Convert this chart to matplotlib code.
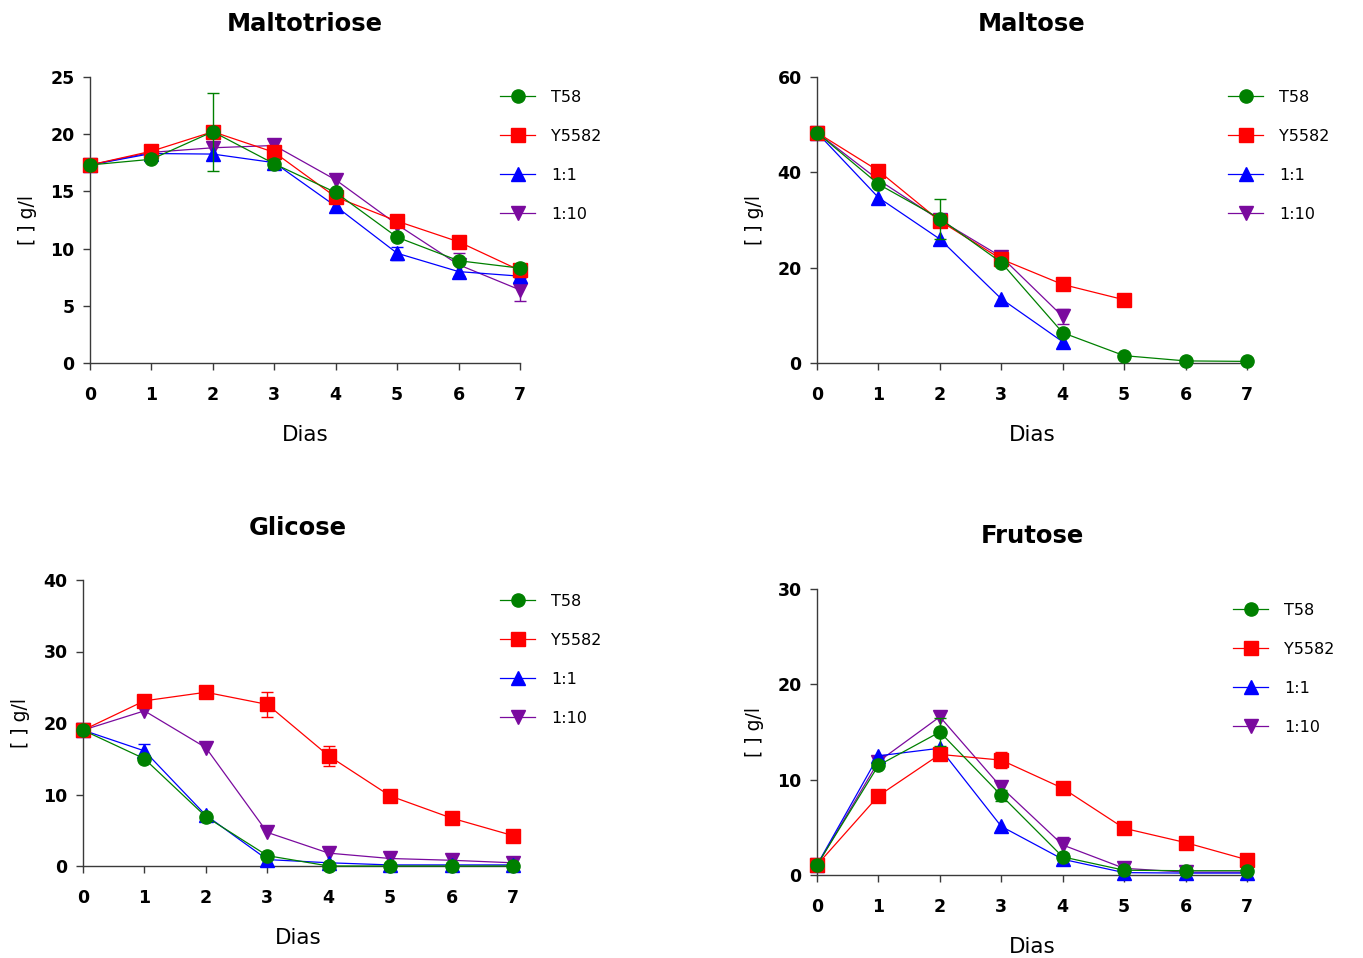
import numpy as np
import matplotlib
matplotlib.use("Agg")
import matplotlib.pyplot as plt

plt.rcParams['font.family'] = ['DejaVu Sans']

W, H = 1363, 958

days = [0, 1, 2, 3, 4, 5, 6, 7]
series_names = ["T58", "Y5582", "1:1", "1:10"]
series_colors = ["#008000", "#FF0000", "#0000FF", "#7A0A9E"]
series_markers = ["o", "s", "^", "v"]

# Maltotriose
maltotriose_t58 = [17.3, 17.8, 20.2, 17.4, 14.9, 11.0, 8.95, 8.3]
maltotriose_y5582 = [17.3, 18.5, 20.2, 18.4, 14.5, 12.4, 10.6, 8.1]
maltotriose_11 = [17.3, 18.3, 18.25, 17.5, 13.7, 9.6, 8.0, 7.6]
maltotriose_110 = [17.3, 18.4, 18.8, 19.0, 16.0, 12.1, 8.6, 6.4]
maltotriose_err_t58 = [0, 0, 3.4, 0.4, 0, 0, 0, 0]
maltotriose_err_y5582 = [0, 0, 0, 0, 0, 0.5, 0, 0]
maltotriose_err_11 = [0, 0, 0, 0, 0, 0.55, 0, 0]
maltotriose_err_110 = [0, 0, 0, 0, 0, 0, 1.0, 1.0]

# Maltose
maltose_t58 = [48.3, 37.5, 30.3, 21.1, 6.4, 1.6, 0.5, 0.4]
maltose_y5582 = [48.3, 40.3, 29.8, 21.8, 16.5, 13.3, np.nan, np.nan]
maltose_11 = [48.3, 34.7, 26.0, 13.5, 4.5, np.nan, np.nan, np.nan]
maltose_110 = [48.3, 38.4, 30.0, 22.3, 9.8, np.nan, np.nan, np.nan]
maltose_err_t58 = [0, 0, 4.2, 0, 0, 0, 0, 0]
maltose_err_y5582 = [0, 0, 0, 0, 0, 0, 0, 0]
maltose_err_11 = [0, 0, 0, 0, 0, 0, 0, 0]
maltose_err_110 = [0, 0, 0, 0, 1.6, 0, 0, 0]

# Glicose
glicose_t58 = [19.0, 15.0, 6.9, 1.45, 0.0, 0.0, 0.0, 0.0]
glicose_y5582 = [19.0, 23.1, 24.3, 22.6, 15.4, 9.8, 6.7, 4.25]
glicose_11 = [19.0, 16.1, 7.1, 0.9, 0.45, 0.15, 0.15, 0.15]
glicose_110 = [19.0, 21.7, 16.55, 4.7, 1.8, 1.05, 0.8, 0.45]
glicose_err_t58 = [0, 0, 0, 0, 0, 0, 0, 0]
glicose_err_y5582 = [0, 0, 0, 1.8, 1.35, 0, 0, 0]
glicose_err_11 = [0, 1.0, 0, 0, 0, 0, 0, 0]
glicose_err_110 = [0, 0, 0, 0, 0, 0, 0, 0]

# Frutose
frutose_t58 = [1.05, 11.5, 15.0, 8.35, 1.9, 0.5, 0.45, 0.45]
frutose_y5582 = [1.05, 8.3, 12.65, 12.05, 9.1, 4.9, 3.4, 1.6]
frutose_11 = [1.05, 12.5, 13.3, 5.1, 1.65, 0.25, 0.2, 0.2]
frutose_110 = [1.0, 11.9, 16.6, 9.2, 3.15, 0.7, 0.3, 0.3]
frutose_err_t58 = [0, 0, 1.45, 0.6, 0, 0, 0, 0]
frutose_err_y5582 = [0, 0, 0, 0.8, 0, 0, 0, 0]
frutose_err_11 = [0, 0, 0, 0, 0, 0, 0, 0]
frutose_err_110 = [0, 0, 0, 0, 0.8, 0, 0, 0]

panels = [
    dict(title="Maltotriose", ymax=25, yticks=[0, 5, 10, 15, 20, 25],
         data=[maltotriose_t58, maltotriose_y5582, maltotriose_11, maltotriose_110],
         err=[maltotriose_err_t58, maltotriose_err_y5582, maltotriose_err_11, maltotriose_err_110],
         box=(90, 520, 363.3, 76.7), title_y=24, leg=(500, 90)),
    dict(title="Maltose", ymax=60, yticks=[0, 20, 40, 60],
         data=[maltose_t58, maltose_y5582, maltose_11, maltose_110],
         err=[maltose_err_t58, maltose_err_y5582, maltose_err_11, maltose_err_110],
         box=(817, 1247, 363.3, 76.7), title_y=24, leg=(1228, 90)),
    dict(title="Glicose", ymax=40, yticks=[0, 10, 20, 30, 40],
         data=[glicose_t58, glicose_y5582, glicose_11, glicose_110],
         err=[glicose_err_t58, glicose_err_y5582, glicose_err_11, glicose_err_110],
         box=(83, 513, 866, 580), title_y=528, leg=(500, 594)),
    dict(title="Frutose", ymax=30, yticks=[0, 10, 20, 30],
         data=[frutose_t58, frutose_y5582, frutose_11, frutose_110],
         err=[frutose_err_t58, frutose_err_y5582, frutose_err_11, frutose_err_110],
         box=(817, 1247, 875, 589), title_y=536, leg=(1233, 603)),
]

fig = plt.figure(figsize=(W / 100, H / 100), dpi=100)
axis_col = "#3a3a3a"

for p in panels:
    l, r, y0, yt = p["box"]
    ax = fig.add_axes([l / W, 1 - y0 / H, (r - l) / W, (y0 - yt) / H])
    ax.set_xlim(0, 7)
    ax.set_ylim(0, p["ymax"])
    for s in ["top", "right"]:
        ax.spines[s].set_visible(False)
    for s in ["left", "bottom"]:
        ax.spines[s].set_color(axis_col)
        ax.spines[s].set_linewidth(1.0)
    ax.set_xticks(days)
    ax.set_yticks(p["yticks"])
    ax.tick_params(axis="both", direction="out", length=5, width=1.0, color=axis_col,
                   labelsize=12.5)
    ax.tick_params(axis="x", pad=11.5)
    ax.tick_params(axis="y", pad=6)
    for lab in ax.get_xticklabels() + ax.get_yticklabels():
        lab.set_fontweight("bold")
    handles = []
    for i in [3, 2, 1, 0]:
        y = np.array(p["data"][i], dtype=float)
        e = np.array(p["err"][i], dtype=float)
        x = np.array(days, dtype=float)
        m = ~np.isnan(y)
        ln, = ax.plot(x[m], y[m], color=series_colors[i], marker=series_markers[i],
                      ms=9.5, lw=0.9, mec=series_colors[i], clip_on=False,
                      zorder=3 + (3 - i), label=series_names[i])
        em = m & (e > 0)
        if em.any():
            ax.errorbar(x[em], y[em], yerr=e[em], fmt="none", ecolor=series_colors[i],
                        elinewidth=1.0, capsize=4.5, capthick=1.0, clip_on=False,
                        zorder=2 + (3 - i))
        handles.append(ln)
    handles = handles[::-1]
    ax.set_xlabel("Dias", fontsize=15.5, labelpad=15)
    ax.set_ylabel("[ ] g/l", fontsize=13.5, labelpad=10)
    cx = (l + r) / 2 / W
    fig.text(cx, 1 - p["title_y"] / H, p["title"], fontsize=17.5, fontweight="bold",
             ha="center", va="center")
    lx, ly = p["leg"]
    ax.legend(handles=handles, labels=series_names, loc="upper left",
              bbox_to_anchor=(lx / W, 1 - ly / H), bbox_transform=fig.transFigure,
              frameon=False, fontsize=11.5, borderpad=0, borderaxespad=0,
              handlelength=2.2, handletextpad=1.0, labelspacing=1.5, numpoints=1)

fig.savefig("out.png", dpi=100)
